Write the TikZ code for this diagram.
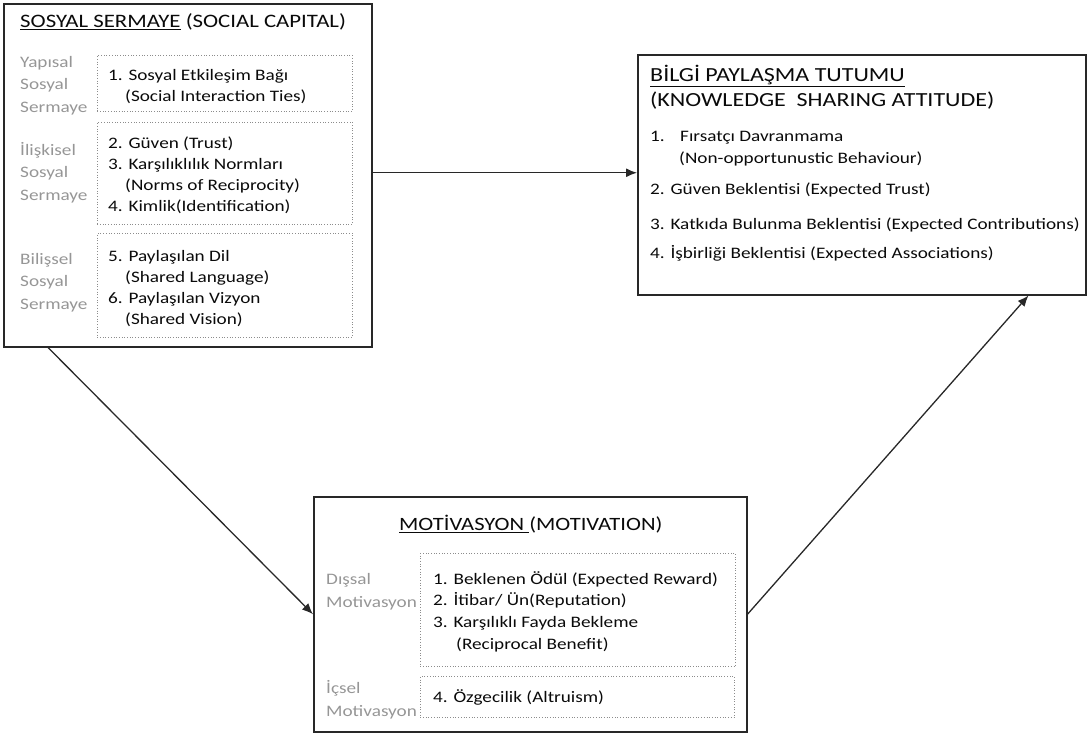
\documentclass[tikz,border=0pt]{standalone}
\usepackage{fontspec}
\setmainfont{Carlito}[FakeStretch=1.2]
\usepackage{tikz}
\usetikzlibrary{arrows.meta,positioning}
\tikzset{>/.tip={Latex[length=11pt,width=9pt]}}
\definecolor{boxline}{RGB}{40,40,40}
\definecolor{labelgray}{RGB}{150,150,150}
\definecolor{dotgray}{RGB}{140,140,140}
\definecolor{textdark}{RGB}{10,10,10}
\newcommand{\fs}[2]{\fontsize{#1}{#2}\selectfont}

\begin{document}
\begin{tikzpicture}[x=1pt,y=-1pt,
  bigbox/.style={draw=boxline,line width=1.5pt,anchor=north west,inner sep=0pt},
  dotbox/.style={draw=dotgray,dotted,line width=0.7pt,anchor=north west,inner sep=0pt},
  sidelabel/.style={text=labelgray,font=\fs{16}{22.5},align=left,anchor=north west,inner sep=0pt},
  itemlist/.style={text=textdark,font=\fs{16}{21},align=left,anchor=north west,inner sep=0pt},
  headtext/.style={text=textdark,font=\fs{19}{25},align=left,anchor=north west,inner sep=0pt},
  conn/.style={->,draw=boxline,line width=1.3pt}]
        \useasboundingbox (0,0) rectangle (1087,736);
        \node[bigbox,minimum width=368pt,minimum height=343pt] (social) at (3,3) {};
        \node[bigbox,minimum width=448pt,minimum height=240pt] (attitude) at (637,54) {};
        \node[bigbox,minimum width=433pt,minimum height=235pt] (motiv) at (313,496) {};
        \node[dotbox,minimum width=255pt,minimum height=56pt] (ties) at (97,55) {};
        \node[dotbox,minimum width=255pt,minimum height=102pt] (relat) at (97,122) {};
        \node[dotbox,minimum width=255pt,minimum height=104pt] (cogn) at (97,233) {};
        \node[dotbox,minimum width=315pt,minimum height=113pt] (extr) at (420,553) {};
        \node[dotbox,minimum width=314pt,minimum height=41pt] (intr) at (420,676) {};
        \node[headtext,anchor=west] (socialtitle) at (20,22) {\underline{SOSYAL SERMAYE} (SOCIAL CAPITAL)};
        \node[sidelabel] (structlbl) at (20,56) {Yapısal\\Sosyal\\Sermaye};
        \node[sidelabel] (relatlbl) at (20,142) {İlişkisel\\Sosyal\\Sermaye};
        \node[sidelabel] (cognlbl) at (20,253) {Bilişsel\\Sosyal\\Sermaye};
        \node[itemlist] (tiestxt) at (108,69) {1. Sosyal Etkileşim Bağı\\\hspace*{17pt}(Social Interaction Ties)};
        \node[itemlist] (relattxt) at (108,137) {2. Güven (Trust)\\3. Karşılıklılık Normları\\\hspace*{17pt}(Norms of Reciprocity)\\4. Kimlik(Identification)};
        \node[itemlist] (cogntxt) at (108,250) {5. Paylaşılan Dil\\\hspace*{17pt}(Shared Language)\\6. Paylaşılan Vizyon\\\hspace*{17pt}(Shared Vision)};
        \node[headtext,font=\fs{20}{25}] (atttitle) at (650,65) {\underline{BİLGİ PAYLAŞMA TUTUMU}\\(KNOWLEDGE\ \ SHARING ATTITUDE)};
        \node[itemlist] (opport) at (650,131) {\makebox[30pt][l]{1.}Fırsatçı Davranmama\\[1pt]\hspace*{29pt}(Non-opportunustic Behaviour)};
        \node[itemlist,anchor=west] (exptrust) at (650,190) {2. Güven Beklentisi (Expected Trust)};
        \node[itemlist,anchor=west] (expcontr) at (650,225) {3. Katkıda Bulunma Beklentisi (Expected Contributions)};
        \node[itemlist,anchor=west] (expassoc) at (650,253) {4. İşbirliği Beklentisi (Expected Associations)};
        \node[headtext,anchor=west,font=\fs{18.8}{22}] (motivtitle) at (399,524) {\underline{MOTİVASYON\ }(MOTIVATION)};
        \node[sidelabel,font=\fs{16}{23}] (extrlbl) at (326,573) {Dışsal\\Motivasyon};
        \node[sidelabel,font=\fs{16}{23}] (intrlbl) at (326,680) {İçsel\\Motivasyon};
        \node[itemlist,font=\fs{16}{21.7}] (extrtxt) at (433,571) {1. Beklenen Ödül (Expected Reward)\\2. İtibar/ Ün(Reputation)\\3. Karşılıklı Fayda Bekleme\\\hspace*{23pt}(Reciprocal Benefit)};
        \node[itemlist,anchor=west] (intrtxt) at (433,697) {4. Özgecilik (Altruism)};
        \draw[conn] ([yshift=2.5pt]social.east) -- ([yshift=2.5pt]social.east -| attitude.west);
        \draw[conn] ([xshift=45pt]social.south west) -- (motiv.west);
        \draw[conn] (motiv.east) -- ([xshift=-58pt]attitude.south east);
      \end{tikzpicture}
\end{document}
